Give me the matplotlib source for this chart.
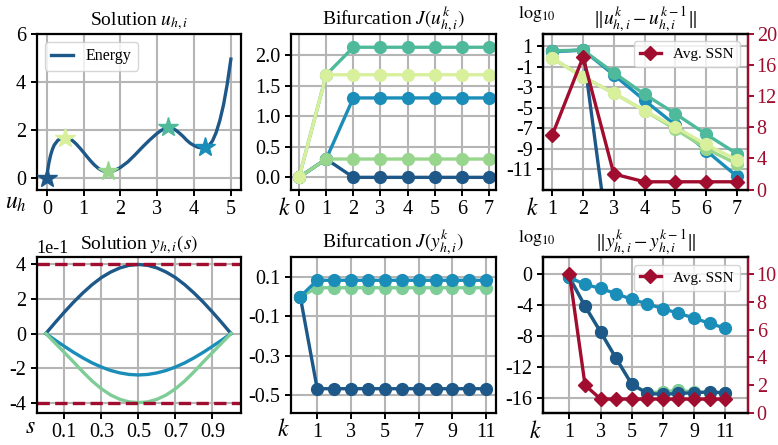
import numpy as np
import matplotlib
matplotlib.use("Agg")
import matplotlib.pyplot as plt

plt.rcParams['font.family'] = ['Liberation Serif', 'DejaVu Serif']
plt.rcParams['mathtext.fontset'] = 'stix'
plt.rcParams['axes.unicode_minus'] = False
plt.rcParams['font.size'] = 14.5
plt.rcParams['axes.linewidth'] = 1.6
plt.rcParams['xtick.major.width'] = 1.4
plt.rcParams['ytick.major.width'] = 1.4
plt.rcParams['xtick.major.size'] = 4.5
plt.rcParams['ytick.major.size'] = 4.5
plt.rcParams['xtick.major.pad'] = 3
plt.rcParams['ytick.major.pad'] = 3

# colours of the five solution branches
c_dark = '#1d5888'
c_blue = '#1a8db8'
c_teal = '#4fba9b'
c_lgreen = '#97d68c'
c_yellow = '#d8ef9c'
c_green2 = '#7ecd97'
c_red = '#a00d2e'
grid_c = '#b5b5b5'

# ---- energy landscape (top left)
u_vals = [0, 0.02, 0.05, 0.1, 0.15, 0.2, 0.3, 0.4, 0.5, 0.6, 0.7, 0.8, 0.9, 1.0,
          1.1, 1.2, 1.3, 1.4, 1.5, 1.6, 1.65, 1.7, 1.8, 1.9, 2.0, 2.2, 2.4, 2.6,
          2.8, 3.0, 3.1, 3.2, 3.3, 3.4, 3.5, 3.6, 3.7, 3.8, 3.9, 4.0, 4.1, 4.2,
          4.3, 4.4, 4.5, 4.6, 4.7, 4.8, 4.9, 5.0]
energy = [0, 0.3, 0.6, 0.95, 1.2, 1.38, 1.58, 1.67, 1.7, 1.66, 1.56, 1.42, 1.25, 1.07,
          0.88, 0.7, 0.54, 0.41, 0.32, 0.27, 0.26, 0.27, 0.3, 0.37, 0.45, 0.68, 0.98, 1.3,
          1.6, 1.87, 1.98, 2.06, 2.1, 2.08, 2.0, 1.88, 1.74, 1.58, 1.45, 1.36, 1.29, 1.26,
          1.27, 1.35, 1.55, 1.9, 2.4, 3.05, 3.9, 4.95]
crit_u = [0, 0.5, 1.65, 3.3, 4.3]
crit_e = [0, 1.68, 0.3, 2.13, 1.3]
crit_c = [c_dark, c_yellow, c_lgreen, c_teal, c_blue]

# ---- bifurcation J(u^k)
k_u = [0, 1, 2, 3, 4, 5, 6, 7]
J_u = {
    c_dark: [0, 0.3, 0, 0, 0, 0, 0, 0],
    c_blue: [0, 0.3, 1.3, 1.3, 1.3, 1.3, 1.3, 1.3],
    c_teal: [0, 1.68, 2.13, 2.13, 2.13, 2.13, 2.13, 2.13],
    c_lgreen: [0, 0.3, 0.3, 0.3, 0.3, 0.3, 0.3, 0.3],
    c_yellow: [0, 1.68, 1.68, 1.68, 1.68, 1.68, 1.68, 1.68],
}

# ---- log10 increments for u
k_du = [1, 2, 3, 4, 5, 6, 7]
du_dark = [0.5, 0.6, -22]
du_blue = [0.5, 0.6, -1.8, -4.3, -6.7, -9.2, -11.7]
du_teal = [0.55, 0.6, -1.6, -3.7, -5.6, -7.6, -9.5]
du_lgreen = [-0.2, -2.0, -3.6, -5.3, -7.1, -9.0, -10.5]
du_yellow = [-0.2, -2.0, -3.6, -5.3, -6.9, -8.6, -10.1]
ssn_u = [7, 17, 2, 1, 1, 1, 1]

# ---- solution y(s)
s_vals = np.round(np.arange(0, 1.0001, 0.05), 2)
y_dark = [0, 0.063, 0.124, 0.182, 0.235, 0.283, 0.324, 0.356, 0.380, 0.395, 0.400,
          0.395, 0.380, 0.356, 0.324, 0.283, 0.235, 0.182, 0.124, 0.063, 0]
y_blue = [0, -0.038, -0.074, -0.109, -0.141, -0.170, -0.194, -0.214, -0.228, -0.237, -0.240,
          -0.237, -0.228, -0.214, -0.194, -0.170, -0.141, -0.109, -0.074, -0.038, 0]
y_green = [0, -0.055, -0.11, -0.165, -0.222, -0.275, -0.32, -0.356, -0.381, -0.396, -0.400,
           -0.396, -0.381, -0.356, -0.32, -0.275, -0.222, -0.165, -0.11, -0.055, 0]
y_bound = 0.4

# ---- bifurcation J(y^k)
k_y = list(range(12))
J_y_green = [0] + [0.045] * 11
J_y_dark = [0] + [-0.467] * 11
J_y_blue = [0] + [0.083] * 11

# ---- log10 increments for y
k_dy = list(range(1, 12))
dy_green = [-0.5, -4.2, -7.5, -10.9, -14.2, -15.3, -15.2, -15.0, -15.2, -15.3, -15.3]
dy_dark = [-0.5, -4.2, -7.5, -10.9, -14.2, -15.4, -15.5, -15.4, -15.3, -15.2, -15.3]
dy_blue = [-0.5, -1.4, -1.9, -2.6, -3.3, -3.9, -4.5, -5.1, -5.7, -6.4, -7.0]
ssn_y = [10, 2, 1, 1, 1, 1, 1, 1, 1, 1, 1]

fig = plt.figure(figsize=(7.78, 4.45), dpi=100)
W, H = 0.263, 0.35
lefts = [0.047, 0.374, 0.698]
bottoms = [0.574, 0.072]
axs = [[fig.add_axes([l, b, W, H]) for l in lefts] for b in bottoms]

lw = 2.4
ms = 8.5
tfs = 14


def style(ax, xlab, xl_x, xl_y=-0.165):
    ax.grid(True, color=grid_c, linewidth=1.5)
    ax.set_axisbelow(True)
    ax.set_xlabel(xlab, fontsize=17, va='baseline')
    ax.xaxis.set_label_coords(xl_x, xl_y)


def style_twin(tw):
    tw.tick_params(axis='y', colors=c_red, pad=2)
    tw.spines['right'].set_color(c_red)
    tw.legend(loc='upper right', fontsize=11, handlelength=1.4)


# top left
ax = axs[0][0]
ax.plot(u_vals, energy, color=c_dark, lw=lw, label='Energy', zorder=3)
for x, e, c in zip(crit_u, crit_e, crit_c):
    ax.plot(x, e, marker='*', ms=15, color=c, zorder=4)
ax.set_xlim(-0.28, 5.28)
ax.set_ylim(-0.47, 6)
ax.set_xticks(range(6))
ax.set_yticks([0, 2, 4, 6])
ax.set_title('Solution $u_{h,i}$', fontsize=tfs)
ax.legend(loc='upper left', fontsize=11.5, handlelength=1.4)
style(ax, '$u_h$', -0.1, -0.12)

# top middle
ax = axs[0][1]
for c, vals in J_u.items():
    ax.plot(k_u, vals, '-o', color=c, lw=lw, ms=ms)
ax.set_xlim(-0.3, 7.25)
ax.set_ylim(-0.2, 2.35)
ax.set_xticks(k_u)
ax.set_yticks([0, 0.5, 1.0, 1.5, 2.0])
ax.set_yticklabels(['0.0', '0.5', '1.0', '1.5', '2.0'])
ax.set_title('Bifurcation $J(u^k_{h,i})$', fontsize=tfs)
style(ax, '$k$', -0.03)

# top right
ax = axs[0][2]
ax.plot(k_du[:3], du_dark, '-o', color=c_dark, lw=lw, ms=ms)
ax.plot(k_du, du_blue, '-o', color=c_blue, lw=lw, ms=ms)
ax.plot(k_du, du_teal, '-o', color=c_teal, lw=lw, ms=ms)
ax.plot(k_du, du_lgreen, '-o', color=c_lgreen, lw=lw, ms=ms)
ax.plot(k_du, du_yellow, '-o', color=c_yellow, lw=lw, ms=ms)
ax.set_xlim(0.7, 7.35)
ax.set_ylim(-13, 2.2)
ax.set_xticks(k_du)
ax.set_yticks([1, -1, -3, -5, -7, -9, -11])
ax.set_title(r'$\|u^k_{h,i} - u^{k-1}_{h,i}\|$', fontsize=tfs)
ax.text(-0.03, 1.06, r'$\log_{10}$', transform=ax.transAxes, ha='center',
        va='bottom', fontsize=13)
style(ax, '$k$', -0.05)
tw = ax.twinx()
tw.plot(k_du, ssn_u, '-D', color=c_red, lw=lw, ms=7, label='Avg. SSN')
tw.set_ylim(0, 20)
tw.set_yticks([0, 4, 8, 12, 16, 20])
style_twin(tw)

# bottom left
ax = axs[1][0]
ax.plot(s_vals, y_dark, color=c_dark, lw=lw)
ax.plot(s_vals, y_blue, color=c_blue, lw=lw)
ax.plot(s_vals, y_green, color=c_green2, lw=lw)
ax.axhline(y_bound, color=c_red, lw=2.4, ls='--')
ax.axhline(-y_bound, color=c_red, lw=2.4, ls='--')
ax.set_xlim(-0.05, 1.055)
ax.set_ylim(-0.46, 0.442)
ax.set_xticks([0.1, 0.3, 0.5, 0.7, 0.9])
ax.set_yticks([-0.4, -0.2, 0, 0.2, 0.4])
ax.ticklabel_format(axis='y', style='sci', scilimits=(0, 0))
ax.yaxis.get_offset_text().set_fontsize(13)
ax.set_title('Solution $y_{h,i}(s)$', fontsize=tfs)
style(ax, '$s$', -0.03, -0.13)

# bottom middle
ax = axs[1][1]
ax.plot(k_y, J_y_green, '-o', color=c_green2, lw=lw, ms=ms)
ax.plot(k_y, J_y_dark, '-o', color=c_dark, lw=lw, ms=ms)
ax.plot(k_y, J_y_blue, '-o', color=c_blue, lw=lw, ms=ms)
ax.set_xlim(-0.55, 11.55)
ax.set_ylim(-0.59, 0.2)
ax.set_xticks([1, 3, 5, 7, 9, 11])
ax.set_yticks([0.1, -0.1, -0.3, -0.5])
ax.set_title('Bifurcation $J(y^k_{h,i})$', fontsize=tfs)
style(ax, '$k$', -0.035, -0.15)

# bottom right
ax = axs[1][2]
ax.plot(k_dy, dy_green, '-o', color=c_green2, lw=lw, ms=ms)
ax.plot(k_dy, dy_dark, '-o', color=c_dark, lw=lw, ms=ms)
ax.plot(k_dy, dy_blue, '-o', color=c_blue, lw=lw, ms=ms)
ax.set_xlim(-0.7, 12.45)
ax.set_ylim(-17.9, 2.1)
ax.set_xticks([1, 3, 5, 7, 9, 11])
ax.set_yticks([0, -4, -8, -12, -16])
ax.set_title(r'$\|y^k_{h,i} - y^{k-1}_{h,i}\|$', fontsize=tfs)
ax.text(-0.03, 1.06, r'$\log_{10}$', transform=ax.transAxes, ha='center',
        va='bottom', fontsize=13)
style(ax, '$k$', -0.035, -0.16)
tw = ax.twinx()
tw.plot(k_dy, ssn_y, '-D', color=c_red, lw=lw, ms=7, label='Avg. SSN')
tw.set_ylim(0, 11.2)
tw.set_yticks([0, 2, 4, 6, 8, 10])
style_twin(tw)

fig.savefig('out.png', dpi=100)
